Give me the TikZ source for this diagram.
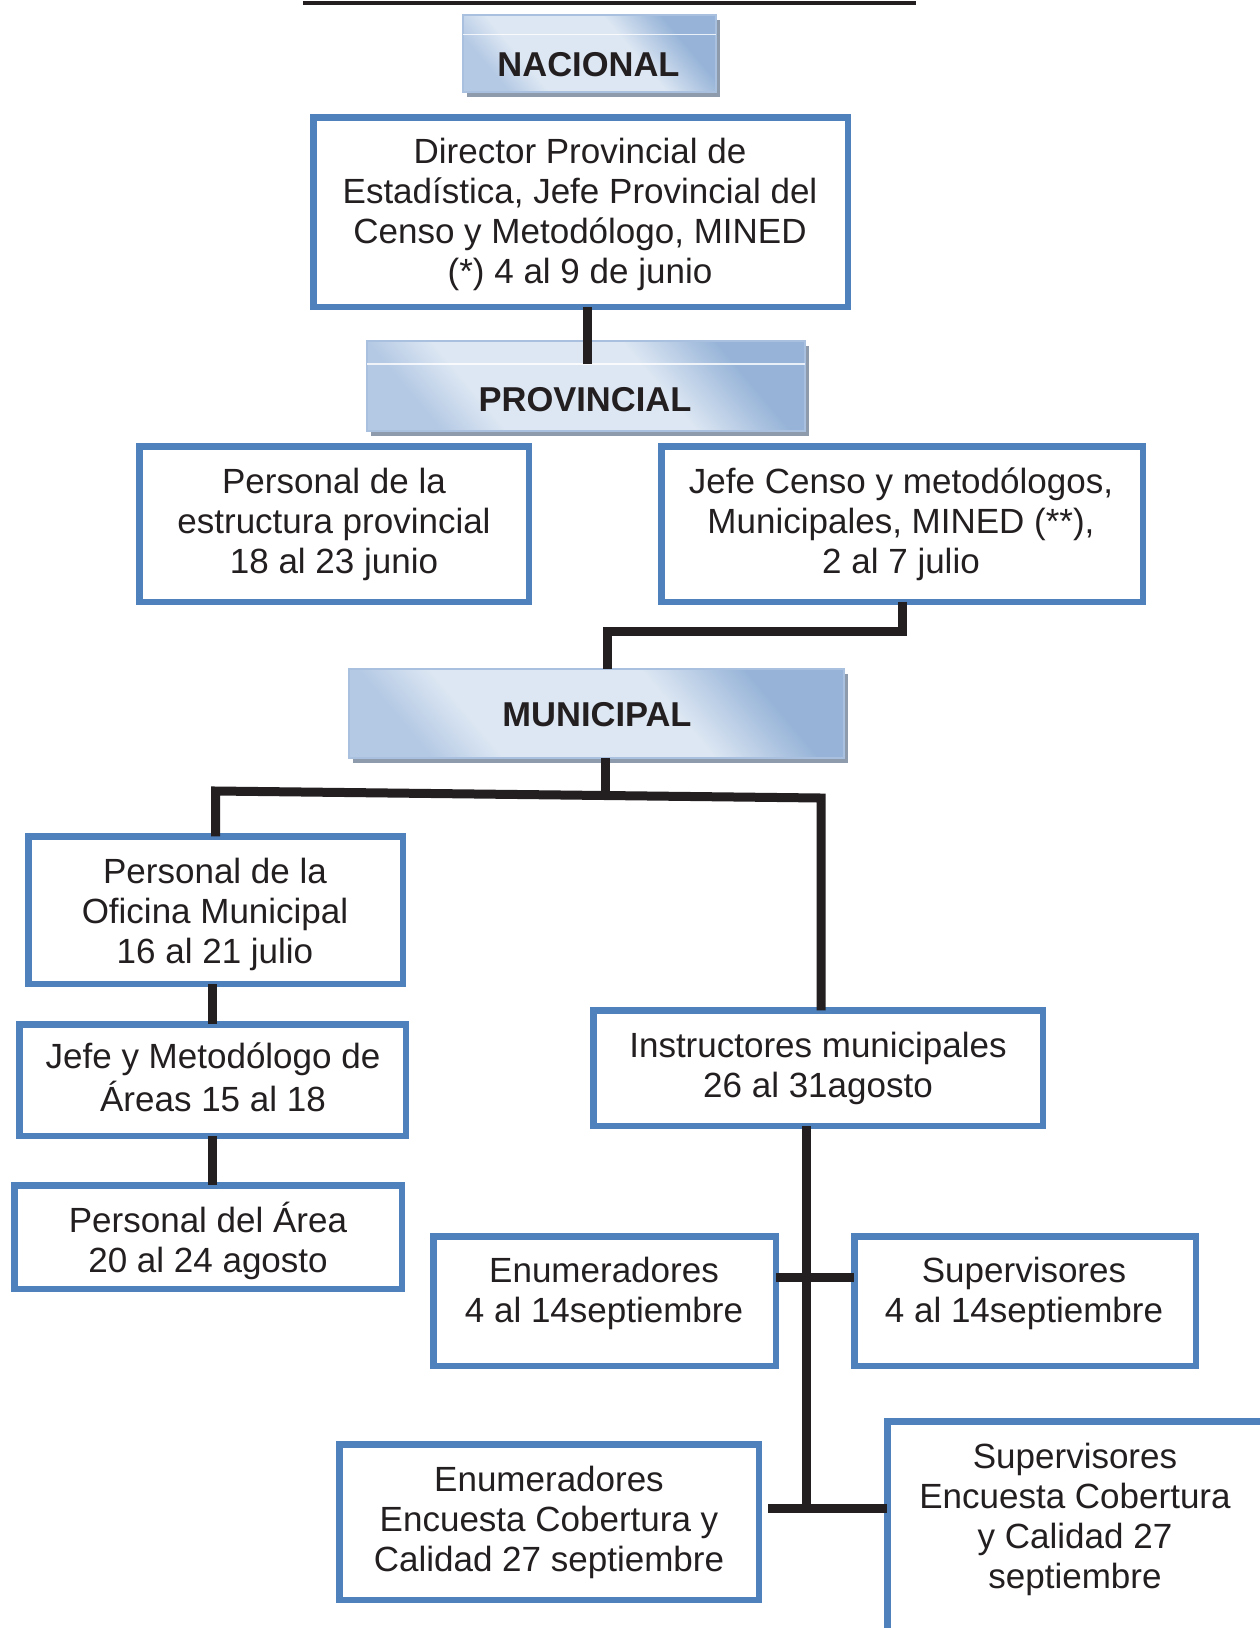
\documentclass[tikz,border=0pt]{standalone}
\usepackage{fontspec}
\setmainfont{Liberation Sans}
\usetikzlibrary{shadows}
\definecolor{bord}{HTML}{4F81BD}
\definecolor{ink}{HTML}{231F20}
\definecolor{hdrL}{HTML}{DDE7F3}
\definecolor{hdrM}{HTML}{B4C9E4}
\definecolor{hdrD}{HTML}{97B4D8}
\definecolor{hdrB}{HTML}{A9C0DE}
\definecolor{shad}{HTML}{8E9BAC}
\pgfdeclarehorizontalshading{hdrshade}{100bp}{color(0bp)=(hdrM); color(25bp)=(hdrM); color(34bp)=(hdrL); color(60bp)=(hdrL); color(73bp)=(hdrD); color(100bp)=(hdrD)}
\tikzset{
  bx/.style={draw=bord, line width=6.5pt, fill=white, inner sep=0pt, outer sep=0pt},
  txt/.style={inner sep=0pt, outer sep=0pt, align=center, text=ink, font=\fontsize{35}{40}\selectfont},
  hdr/.style={shading=hdrshade, shading angle=40, draw=hdrB, line width=1.2pt, inner sep=0pt, outer sep=0pt,
    drop shadow={shadow xshift=4pt, shadow yshift=-5pt, fill=shad, opacity=1}},
  htxt/.style={inner sep=0pt, outer sep=0pt, text=ink, font=\bfseries\fontsize{34.5}{40}\selectfont},
  stripline/.style={draw=white, line width=1.5pt, opacity=0.8},
  conn/.style={draw=ink, line width=9pt, line join=miter, line cap=butt},
  toprule/.style={draw=ink, line width=4.5pt}
}
\begin{document}
\begin{tikzpicture}[x=1pt, y=-1pt]
\useasboundingbox[fill=white] (0,0) rectangle (1259,1628);
\draw[toprule] (303,3) -- (916,3);

% headers
\node[hdr, minimum width=253, minimum height=77] (nac) at (589.5,53.5) {};
\draw[stripline] ([yshift=-19.5pt]nac.north west) -- ([yshift=-19.5pt]nac.north east);
\node[htxt] (nact) at (588.5,65) {NACIONAL};

\node[hdr, minimum width=438, minimum height=90] (prov) at (586,386) {};
\draw[stripline] ([yshift=-23pt]prov.north west) -- ([yshift=-23pt]prov.north east);
\node[htxt] (provt) at (585,399.5) {PROVINCIAL};

\node[hdr, minimum width=495, minimum height=89] (muni) at (596.5,713.5) {};
\node[htxt] (munit) at (597,715) {MUNICIPAL};

% boxes
\node[bx, minimum width=534.5, minimum height=189.5] (dir) at (580.5,212) {};
\node[txt] (dirt) at (580,215) {\strut Director Provincial de\\\strut Estadística, Jefe Provincial del\\\strut Censo y Metodólogo, MINED\\\strut (*) 4 al 9 de junio};

\node[bx, minimum width=389.5, minimum height=155.5] (pest) at (334,524) {};
\node[txt] (pestt) at (334,525) {\strut Personal de la\\\strut estructura provincial\\\strut 18 al 23 junio};

\node[bx, minimum width=481.5, minimum height=155.5] (jefe) at (902,524) {};
\node[txt] (jefet) at (901,525) {\strut Jefe Censo y metodólogos,\\\strut Municipales, MINED (**),\\\strut 2 al 7 julio};

\node[bx, minimum width=374.5, minimum height=147.5] (ofic) at (215.5,910) {};
\node[txt] (ofict) at (215,915) {\strut Personal de la\\\strut Oficina Municipal\\\strut 16 al 21 julio};

\node[bx, minimum width=386.5, minimum height=111.5] (jmet) at (212.5,1080) {};
\node[txt] (jmett) at (213,1082) {\strut Jefe y Metodólogo de\\\strut Áreas 15 al 18};

\node[bx, minimum width=387.5, minimum height=103.5] (parea) at (208,1237) {};
\node[txt] (pareat) at (208,1243) {\strut Personal del Área\\\strut 20 al 24 agosto};

\node[bx, minimum width=449.5, minimum height=115.5] (instr) at (818,1068) {};
\node[txt] (instrt) at (818,1069) {\strut Instructores municipales\\\strut 26 al 31agosto};

\node[bx, minimum width=342.5, minimum height=129.5] (enum) at (604.5,1301) {};
\node[txt] (enumt) at (604,1294) {\strut Enumeradores\\\strut 4 al 14septiembre};

\node[bx, minimum width=341.5, minimum height=129.5] (sup) at (1025,1301) {};
\node[txt] (supt) at (1024,1294) {\strut Supervisores\\\strut 4 al 14septiembre};

\node[bx, minimum width=419.5, minimum height=155.5] (enumE) at (549,1522) {};
\node[txt] (enumEt) at (549,1523) {\strut Enumeradores\\\strut Encuesta Cobertura y\\\strut Calidad 27 septiembre};

\node[bx, minimum width=399.5, minimum height=235.5] (supE) at (1087,1539) {};
\node[txt] (supEt) at (1075,1520.5) {\strut Supervisores\\\strut Encuesta Cobertura\\\strut y Calidad 27\\\strut septiembre};

% connectors
\coordinate (pj) at (587,364);
\draw[conn] (dir.south -| pj) -- (pj);

\coordinate (jm) at (607,631);
\draw[conn] (jefe.south) |- (jm) -- (jm |- muni.north);

\coordinate (mj) at (605,795);
\coordinate (hl) at (215.5,791);
\coordinate (hr) at (821,798);
\draw[conn] (muni.south -| mj) -- (mj);
\draw[conn] (ofic.north) -- (ofic.north |- hl) -- (hr) -- (hr |- instr.north);

\draw[conn] (ofic.south -| jmet.north) -- (jmet.north);
\draw[conn] (jmet.south) -- (jmet.south |- parea.north);

\coordinate (vb) at (806,1505);
\draw[conn] (instr.south -| vb) -- (vb);
\coordinate (cr) at (806,1277);
\draw[conn] (enum.east |- cr) -- (sup.west |- cr);
\coordinate (br) at (768,1508.5);
\draw[conn] (br) -- (supE.west |- br);
\end{tikzpicture}
\end{document}
